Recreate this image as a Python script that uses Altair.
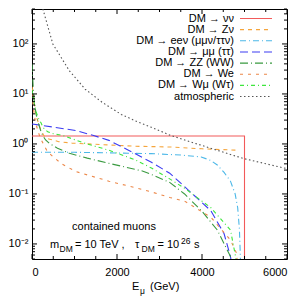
import altair as alt
import pandas as pd

# ---------------- data ----------------
series_names = ["DM → νν", "DM → Zν", "DM → eeν (μμν/ττν)", "DM → μμ (ττ)",
                "DM → ZZ (WW)", "DM → We", "DM → Wμ (Wτ)", "atmospheric"]

nunu_E = [0, 5000, 5000]
nunu_V = [1.44, 1.44, 0.001]

znu_E = [0, 25, 50, 86, 123, 200, 280, 395, 490, 630, 940, 1420, 2430, 3240, 4000, 4830]
znu_V = [14, 10, 7.0, 4.2, 3.1, 2.0, 1.46, 1.25, 1.2, 1.11, 1.04, 0.99, 0.9, 0.87, 0.8, 0.75]

ee_E = [0, 1000, 2000, 2810, 3500, 3980, 4200, 4360, 4520, 4670, 4780, 4840, 4880, 4900, 4910]
ee_V = [0.68, 0.68, 0.66, 0.64, 0.6, 0.55, 0.47, 0.38, 0.27, 0.18, 0.1, 0.053, 0.02, 0.0066, 0.003]

mumu_E = [0, 256, 1030, 1450, 1810, 2270, 2810, 3240, 3590, 4210, 4520, 4670, 4720]
mumu_V = [2.5, 2.33, 1.86, 1.47, 1.18, 0.75, 0.43, 0.26, 0.14, 0.046, 0.016, 0.0056, 0.003]

zz_E = [0, 25, 50, 100, 150, 200, 256, 320, 410, 600, 880, 1300, 1810, 2580, 2810, 3240,
        3590, 4000, 4360, 4550, 4670, 4720]
zz_V = [40, 15, 7.5, 3.8, 2.6, 1.9, 1.45, 1.2, 1.02, 0.82, 0.65, 0.52, 0.41, 0.29, 0.245, 0.17,
        0.1, 0.045, 0.019, 0.009, 0.0056, 0.003]

we_E = [0, 30, 60, 100, 150, 200, 256, 356, 490, 700, 1030, 1810, 2580, 2810, 3240, 3590,
        4210, 4670, 4810, 4850]
we_V = [10, 5.5, 3.5, 2.4, 1.7, 1.3, 1.05, 0.72, 0.56, 0.4, 0.28, 0.18, 0.124, 0.11, 0.085, 0.072,
        0.034, 0.012, 0.0066, 0.003]

wmu_E = [0, 25, 62, 100, 150, 217, 256, 370, 500, 720, 1000, 1260, 1810, 2430, 2810, 3240,
         3590, 4210, 4670, 4790, 4820]
wmu_V = [12, 8.5, 6, 4.3, 3.3, 2.6, 2.15, 1.75, 1.6, 1.48, 1.22, 1.02, 0.75, 0.48, 0.33, 0.2,
         0.13, 0.053, 0.019, 0.0056, 0.003]

atm_E = [230, 256, 490, 880, 1250, 1650, 2100, 2430, 2810, 3280, 4000, 4980, 6000]
atm_V = [600, 500, 100, 29, 12.5, 6.8, 3.9, 2.9, 2.15, 1.46, 0.93, 0.51, 0.32]

x_tick_labels = [0, 2000, 4000, 6000]
x_minor = [500, 1000, 1500, 2500, 3000, 3500, 4500, 5000, 5500]
y_major = [0.01, 0.1, 1, 10, 100]

# ---------------- styles ----------------
colors = ["#f25a5a", "#f5a53c", "#4cb8e8", "#3c3cf2", "#3a9a40", "#ec8748", "#3ee63e", "#555555"]
dashes = [[1, 0], [4, 4], [6, 3, 1, 3], [8, 4], [8, 3, 1, 3], [3, 5], [4, 3, 1, 3], [1.5, 2.5]]
FONT = "Liberation Sans"
W, H = 255, 250
L = 24  # left padding

all_E = [nunu_E, znu_E, ee_E, mumu_E, zz_E, we_E, wmu_E, atm_E]
all_V = [nunu_V, znu_V, ee_V, mumu_V, zz_V, we_V, wmu_V, atm_V]
frames = []
for name, E, V in zip(series_names, all_E, all_V):
    frames.append(pd.DataFrame({"series": name, "E": E, "V": V, "ord": list(range(len(E)))}))
df = pd.concat(frames, ignore_index=True)

x_scale = alt.Scale(domain=[0, 6000], nice=False, zero=False)
y_scale = alt.Scale(type="log", domain=[0.005, 500], nice=False)

ylabel = ("datum.value >= 50 ? '10²' : datum.value >= 5 ? '10¹' : datum.value >= 0.5 ? '10⁰' : "
          "datum.value >= 0.05 ? '10⁻¹' : '10⁻²'")

x_axis = alt.Axis(values=x_tick_labels, ticks=False, tickSize=0, domain=False, grid=False,
                  title=None, labelFontSize=11, labelPadding=7, labelFont=FONT,
                  labelColor="black", format="d")
y_axis = alt.Axis(values=y_major, ticks=False, tickSize=0, domain=False, grid=False,
                  title=None, labelFontSize=11, labelPadding=4, labelFont=FONT,
                  labelColor="black", labelExpr=ylabel)

lines = alt.Chart(df).mark_line(clip=True, strokeWidth=1.1).encode(
    x=alt.X("E:Q", scale=x_scale, axis=x_axis, title=None),
    y=alt.Y("V:Q", scale=y_scale, axis=y_axis, title=None),
    color=alt.Color("series:N", scale=alt.Scale(domain=series_names, range=colors), legend=None),
    strokeDash=alt.StrokeDash("series:N", scale=alt.Scale(domain=series_names, range=dashes),
                              legend=None),
    order="ord:Q",
    detail="series:N",
)

layers = [lines]

# inward ticks on all four sides
y_minor = [k * 10.0 ** d for d in range(-3, 3) for k in range(2, 10) if 0.005 <= k * 10.0 ** d <= 500]
def ytick(vals, x0, x1):
    return alt.Chart(pd.DataFrame({"V": vals})).mark_rule(color="black", strokeWidth=1).encode(
        y=alt.Y("V:Q", scale=y_scale, axis=y_axis, title=None), x=alt.value(x0), x2=alt.value(x1))
def xtick(vals, y0, y1):
    return alt.Chart(pd.DataFrame({"E": vals})).mark_rule(color="black", strokeWidth=1).encode(
        x=alt.X("E:Q", scale=x_scale, axis=x_axis, title=None), y=alt.value(y0), y2=alt.value(y1))

layers += [ytick(y_major, 0, 5), ytick(y_minor, 0, 3), ytick(y_major, W - 5, W), ytick(y_minor, W - 3, W),
           xtick(x_tick_labels, H - 5, H), xtick(x_minor, H - 3, H), xtick(x_tick_labels, 0, 5),
           xtick(x_minor, 0, 3)]

one = pd.DataFrame({"a": [0]})
def txt(s, x, y, size=11, align="left", baseline="middle"):
    return alt.Chart(one).mark_text(text=s, font=FONT, fontSize=size, align=align,
                                    baseline=baseline, color="black").encode(
        x=alt.value(x), y=alt.value(y))

# legend (label left, sample right, as in the reference)
for i, name in enumerate(series_names):
    yy = 9.5 + i * 11.15
    layers.append(txt(name, 202, yy, align="right"))
    layers.append(alt.Chart(one).mark_rule(color=colors[i], strokeDash=dashes[i], strokeWidth=1.1).encode(
        x=alt.value(208), x2=alt.value(240), y=alt.value(yy)))

# annotations
layers.append(txt("contained muons", 82, 218, align="center"))
yb = 236
layers += [txt("m", 18, yb), txt("DM", 27.5, yb + 4, size=8.5), txt("= 10 TeV ,", 43, yb),
           txt("τ", 103, yb), txt("DM", 109.5, yb + 4, size=8.5), txt("= 10", 125.5, yb),
           txt("26", 149, yb - 4, size=8.5), txt("s", 162, yb)]

# x title with subscript
layers += [txt("E", 100, 278), txt("μ", 108, 282, size=8.5), txt("(GeV)", 118, 278)]

chart = alt.layer(*layers).properties(
    width=W, height=H,
    padding={"left": L, "top": 1, "right": 4, "bottom": 39},
    autosize=alt.AutoSizeParams(type="none"),
).configure_view(stroke="black", strokeWidth=1)

chart.save("out.html", embed_options={"renderer": "svg", "actions": False})
